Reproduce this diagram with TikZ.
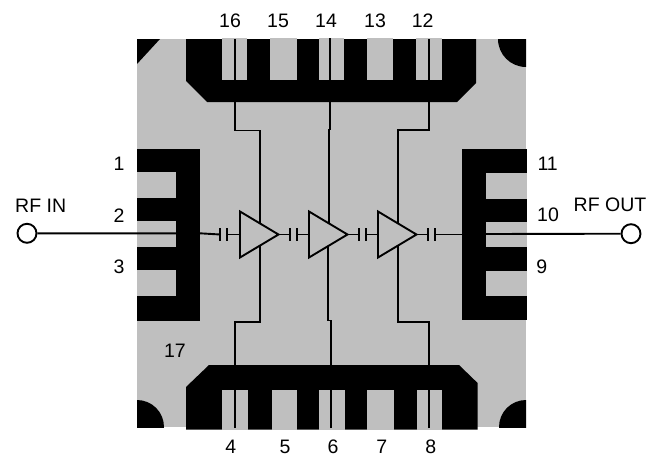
\documentclass[tikz,border=0pt]{standalone}
\usepackage{fontspec}
\setmainfont{Liberation Sans}
\usepackage[svgnames,x11names]{xcolor}
\usetikzlibrary{math}
\usetikzlibrary{shapes.geometric}
\definecolor{PkgGray}{RGB}{191,191,191}
\tikzset{
	wire/.style={line width=1.9pt,line join=miter},
	plate/.style={line width=2pt},
	gapfill/.style={fill=PkgGray},
	pinlabel/.style={font=\fontsize{19.5}{19.5}\selectfont,inner sep=0pt,text height=14pt,text depth=0pt},
	terminal/.style={circle,draw,line width=1.9pt,fill=white,minimum size=19pt,inner sep=0pt},
	amp/.style={isosceles triangle,isosceles triangle stretches,shape border rotate=0,draw,line width=1.9pt,fill=PkgGray,
		minimum width=46pt,minimum height=38.5pt,inner sep=0pt,outer sep=0pt,anchor=lower side},
}
\begin{document}
\begin{tikzpicture}[x=1pt,y=-1pt]
	\useasboundingbox (0,0) rectangle (658,455);
	\tikzmath{\PkgLeft = 137; \PkgRight = 526; \PkgTop = 39; \PkgBottom = 427; \RowY = 234.5;}
	
	% package and corner marks
	\fill[PkgGray] (\PkgLeft,\PkgTop) rectangle (\PkgRight,\PkgBottom);
	\fill (\PkgLeft,\PkgTop) -- (160,\PkgTop) -- (\PkgLeft,64) -- cycle;
	\begin{scope}
		\clip (\PkgLeft,\PkgTop) rectangle (\PkgRight,\PkgBottom);
		\fill (\PkgRight,\PkgTop) circle[radius=28pt];
		\fill (\PkgLeft,\PkgBottom) circle[radius=27pt];
		\fill (\PkgRight,\PkgBottom) circle[radius=27pt];
	\end{scope}
	
	% pads
	\fill (186,39) -- (476,39) -- (476,83) -- (457,102) -- (207,102) -- (186,81) -- cycle;
	\foreach \a/\b in {221.7/246.7,270/296.7,319/344,367/392.7,416/442}
		\fill[gapfill] (\a,38) rectangle (\b,80);
	\fill (186,429.5) -- (477.6,429.5) -- (477.6,383) -- (459,365) -- (209,365) -- (186,387) -- cycle;
	\foreach \a/\b in {221.7/247.7,271.7/296.7,319/345,367/393.7,417/442}
		\fill[gapfill] (\a,390) rectangle (\b,429.5);
	\fill (137,149) rectangle (200,320.7);
	\foreach \a/\b in {172.3/197.7,221/246.7,270/296}
		\fill[gapfill] (137,\a) rectangle (176,\b);
	\fill (461.7,149) rectangle (526.5,319.5);
	\foreach \a/\b in {172.7/199,222.3/247.3,271/296}
		\fill[gapfill] (486,\a) rectangle (526.5,\b);
	
	% amplifiers and coupling caps
	\node[amp] (amp1) at (240,\RowY) {};
	\node[amp] (amp2) at (309,\RowY) {};
	\node[amp] (amp3) at (378,\RowY) {};
	\foreach \name/\x in {cap1/220,cap2/290,cap3/359,cap4/428} {
		\coordinate (\name a) at (\x,\RowY);
		\coordinate (\name b) at (\x+7,\RowY);
		\draw[plate] (\x,228) -- ++(0,13);
		\draw[plate] (\x+7,228) -- ++(0,13);
	}
	
	% bias lines, top
	\coordinate (pin16) at (234.7,39);
	\coordinate (pin14) at (330,38);
	\coordinate (pin12) at (428.7,39);
	\coordinate (amp1top) at (260,223.5);
	\coordinate (amp2top) at (328.7,222.8);
	\coordinate (amp3top) at (397.7,222.8);
	\draw[wire] (pin16) |- (260,130.5) -- (amp1top);
	\draw[wire] (pin14) -- (330,129.5) -- (328.7,129.5) -- (amp2top);
	\draw[wire] (pin12) |- (397.7,130) -- (amp3top);
	
	% bias lines, bottom
	\coordinate (pin4) at (234.7,428);
	\coordinate (pin6) at (331,428);
	\coordinate (pin8) at (429,428);
	\coordinate (amp1bot) at (260,246);
	\coordinate (amp2bot) at (328.3,246);
	\coordinate (amp3bot) at (397.7,246);
	\draw[wire] (pin4) |- (260,322) -- (amp1bot);
	\draw[wire] (pin6) -- (331,320.5) -- (328.3,320.5) -- (amp2bot);
	\draw[wire] (pin8) |- (397.7,322) -- (amp3bot);
	
	% signal path
	\node[terminal] (rfin) at (27,233.3) {};
	\node[terminal] (rfout) at (631,233.7) {};
	\coordinate (padin) at (200,233.3);
	\coordinate (padout) at (486,234);
	\coordinate (padoutb) at (461.7,\RowY);
	\draw[wire] (rfin) -- (padin) -- (cap1a);
	\draw[wire] (cap1b) -- (amp1.lower side);
	\draw[wire] (amp1.apex) -- (cap2a);
	\draw[wire] (cap2b) -- (amp2.lower side);
	\draw[wire] (amp2.apex) -- (cap3a);
	\draw[wire] (cap3b) -- (amp3.lower side);
	\draw[wire] (amp3.apex) -- (cap4a);
	\draw[wire] (cap4b) -- (padoutb);
	\draw[wire] (padout) -- (rfout);
	
	% labels
	\foreach \txt/\x/\y in {16/230/20.5,15/278/20.5,14/326/20.5,13/375/20.5,12/422.7/20.5,
		4/230.7/446,5/285/446,6/333/446,7/381.7/446,8/430.7/446,
		1/119/163,2/119/215,3/119/266.7,17/175/350,
		11/547.7/163,10/548/214,9/541.7/266.7}
		\node[pinlabel] (pin\txt label) at (\x,\y) {\txt};
	\node[pinlabel] (rfinlabel) at (40.7,205) {RF IN};
	\node[pinlabel] (rfoutlabel) at (610,204) {RF OUT};
\end{tikzpicture}
\end{document}
